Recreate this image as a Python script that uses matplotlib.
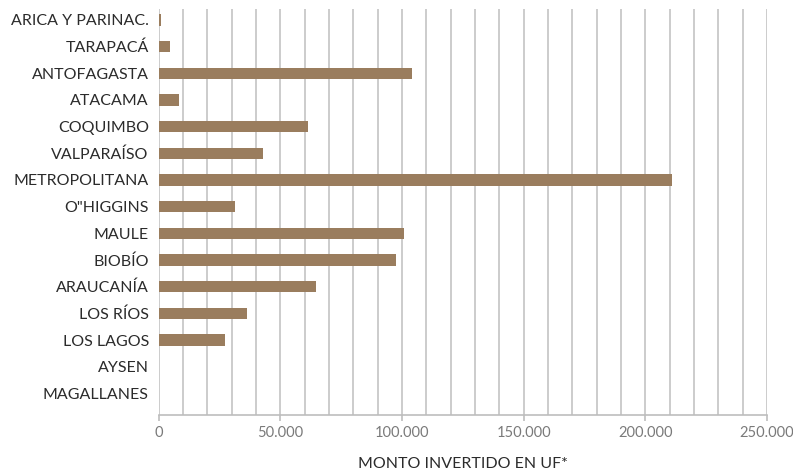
import matplotlib
matplotlib.use("Agg")
import matplotlib.pyplot as plt
from matplotlib.ticker import MultipleLocator, FuncFormatter

regions = ["ARICA Y PARINAC.", "TARAPACÁ", "ANTOFAGASTA", "ATACAMA", "COQUIMBO",
           "VALPARAÍSO", "METROPOLITANA", "O\"HIGGINS", "MAULE", "BIOBÍO",
           "ARAUCANÍA", "LOS RÍOS", "LOS LAGOS", "AYSEN", "MAGALLANES"]
montos = [1000, 4700, 104000, 8400, 61400, 42900, 211000, 31400, 100900, 97600,
          64700, 36400, 27300, 0, 0]
x_ticks = [0, 50000, 100000, 150000, 200000, 250000]
x_label = "MONTO INVERTIDO EN UF*"

plt.rcParams['font.family'] = ['Lato', 'DejaVu Sans']

fig = plt.figure(figsize=(7.93, 4.72), dpi=100)
ax = fig.add_axes([158.5/793, (472-415)/472, (767-158.5)/793, (415-9)/472])

ypos = list(range(len(regions)))
ax.barh(ypos, montos, height=0.42, color="#9a7d5e", zorder=3)

ax.set_xlim(0, 250000)
ax.set_ylim(14.81, -0.41)
ax.set_yticks(ypos)
ax.set_yticklabels(regions, fontsize=11.5, color="#2b2b2b")
ax.tick_params(axis='y', length=0, pad=7)

ax.set_xticks(x_ticks)
ax.xaxis.set_minor_locator(MultipleLocator(10000))
ax.xaxis.set_major_formatter(FuncFormatter(lambda v, p: f"{int(v):,}".replace(",", ".")))
ax.tick_params(axis='x', which='major', length=4, width=1.2, color="#bdbdbd",
               labelsize=10.5, labelcolor="#7a7a7a", pad=4)
ax.tick_params(axis='x', which='minor', length=0)
ax.grid(axis='x', which='both', color="#c4c4c4", linewidth=1.2, zorder=0)

for s in ["top", "right", "left"]:
    ax.spines[s].set_visible(False)
ax.spines["bottom"].set_color("#bdbdbd")
ax.spines["bottom"].set_linewidth(1.2)

ax.set_xlabel(x_label, fontsize=11.5, color="#2b2b2b", labelpad=12)

fig.savefig("out.png", dpi=100, facecolor="white")
